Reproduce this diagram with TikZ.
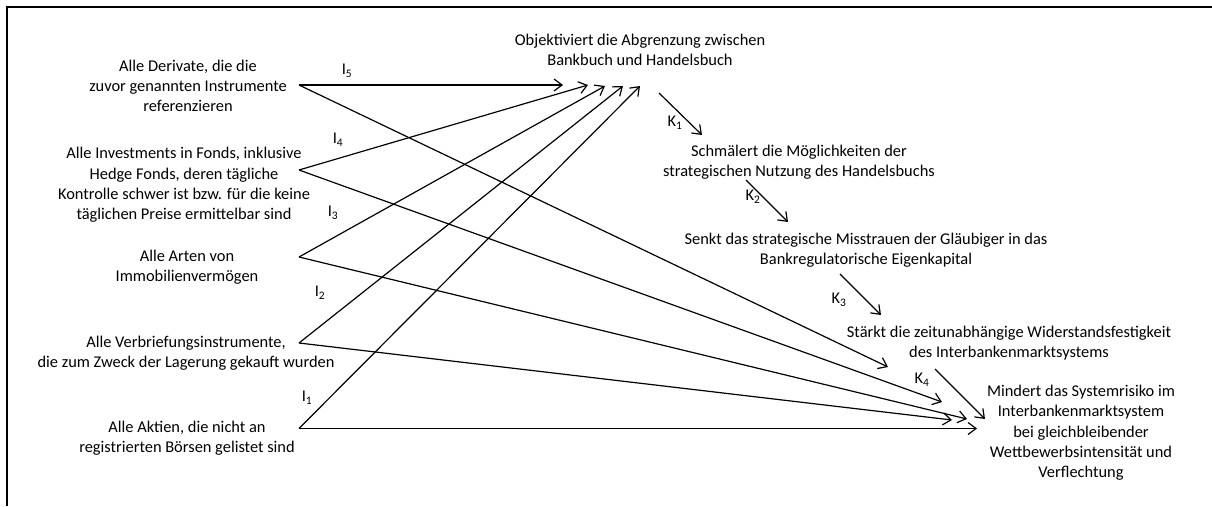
\documentclass[tikz,border=0pt]{standalone}
\usepackage{fontspec}
\setmainfont{Carlito}
\usetikzlibrary{arrows.meta}
\begin{document}
\begin{tikzpicture}[x=1pt,y=-1pt,
  txt/.style={align=center,inner sep=0pt,font=\fontsize{16.4}{20.3}\selectfont},
  lbl/.style={inner sep=0pt,font=\fontsize{16.4}{20.3}\selectfont},
  link/.style={line width=1.2pt,-{Straight Barb[length=8pt,width=12pt]}},
  frame/.style={line width=2pt}]
\useasboundingbox (0,0) rectangle (1212,506);

% open frame: top and left edge only
\draw[frame] (7,506) -- (7,7) -- (1212,7);

% instruments (left column)
\node[txt] (deriv)  at (188,86)  {Alle Derivate, die die\\zuvor genannten Instrumente\\referenzieren};
\node[txt] (inv)    at (184,185) {Alle Investments in Fonds, inklusive\\Hedge Fonds, deren tägliche\\Kontrolle schwer ist bzw. für die keine\\täglichen Preise ermittelbar sind};
\node[txt] (arten)  at (187,267) {Alle Arten von\\Immobilienvermögen};
\node[txt] (verbr)  at (186,353) {Alle Verbriefungsinstrumente,\\die zum Zweck der Lagerung gekauft wurden};
\node[txt] (aktien) at (187,438) {Alle Aktien, die nicht an\\registrierten Börsen gelistet sind};

% chain of effects
\node[txt] (obj)    at (640,50)  {Objektiviert die Abgrenzung zwischen\\Bankbuch und Handelsbuch};
\node[txt] (schm)   at (799,162) {Schmälert die Möglichkeiten der\\strategischen Nutzung des Handelsbuchs};
\node[txt] (senkt)  at (866,250) {Senkt das strategische Misstrauen der Gläubiger in das\\Bankregulatorische Eigenkapital};
\node[txt] (staerk) at (1009,343) {Stärkt die zeitunabhängige Widerstandsfestigkeit\\des Interbankenmarktsystems};
\node[txt] (mind)   at (1081,433) {Mindert das Systemrisiko im\\Interbankenmarktsystem\\bei gleichbleibender\\Wettbewerbsintensität und\\Verflechtung};

% arrow end points
\coordinate (dOut) at (299,85);
\coordinate (iOut) at (299,170);
\coordinate (aOut) at (299,257);
\coordinate (vOut) at (299,343);
\coordinate (kOut) at (299,428.5);

\coordinate (objD) at (563,85);
\coordinate (objI) at (588,85);
\coordinate (objA) at (605,86);
\coordinate (objV) at (623,86);
\coordinate (objK) at (640,86);

\coordinate (endD) at (888,367);
\coordinate (endI) at (942,402);
\coordinate (endV) at (952,420);
\coordinate (endA) at (967,419);
\coordinate (endK) at (977,428.5);

\coordinate (k1a) at (659,93);   \coordinate (k1b) at (702,135);
\coordinate (k2a) at (746,180);  \coordinate (k2b) at (788,222);
\coordinate (k3a) at (840,274);  \coordinate (k3b) at (881,315);
\coordinate (k4a) at (935,369);  \coordinate (k4b) at (985,419);

% instruments -> first effect
\draw[link] (dOut) -- (objD);
\draw[link] (iOut) -- (objI);
\draw[link] (aOut) -- (objA);
\draw[link] (vOut) -- (objV);
\draw[link] (kOut) -- (objK);

% instruments -> systemic risk
\draw[link] (dOut) -- (endD);
\draw[link] (iOut) -- (endI);
\draw[link] (aOut) -- (endA);
\draw[link] (vOut) -- (endV);
\draw[link] (kOut) -- (endK);

% chain K1..K4
\draw[link] (k1a) -- (k1b);
\draw[link] (k2a) -- (k2b);
\draw[link] (k3a) -- (k3b);
\draw[link] (k4a) -- (k4b);

% labels
\node[lbl] (l5) at (347,71)  {I\textsubscript{5}};
\node[lbl] (l4) at (338,140) {I\textsubscript{4}};
\node[lbl] (l3) at (333,213) {I\textsubscript{3}};
\node[lbl] (l2) at (320,293) {I\textsubscript{2}};
\node[lbl] (l1) at (307,398) {I\textsubscript{1}};

\node[lbl] (c1) at (675,123) {K\textsubscript{1}};
\node[lbl] (c2) at (753,197) {K\textsubscript{2}};
\node[lbl] (c3) at (839,300) {K\textsubscript{3}};
\node[lbl] (c4) at (922,380) {K\textsubscript{4}};
\end{tikzpicture}
\end{document}
